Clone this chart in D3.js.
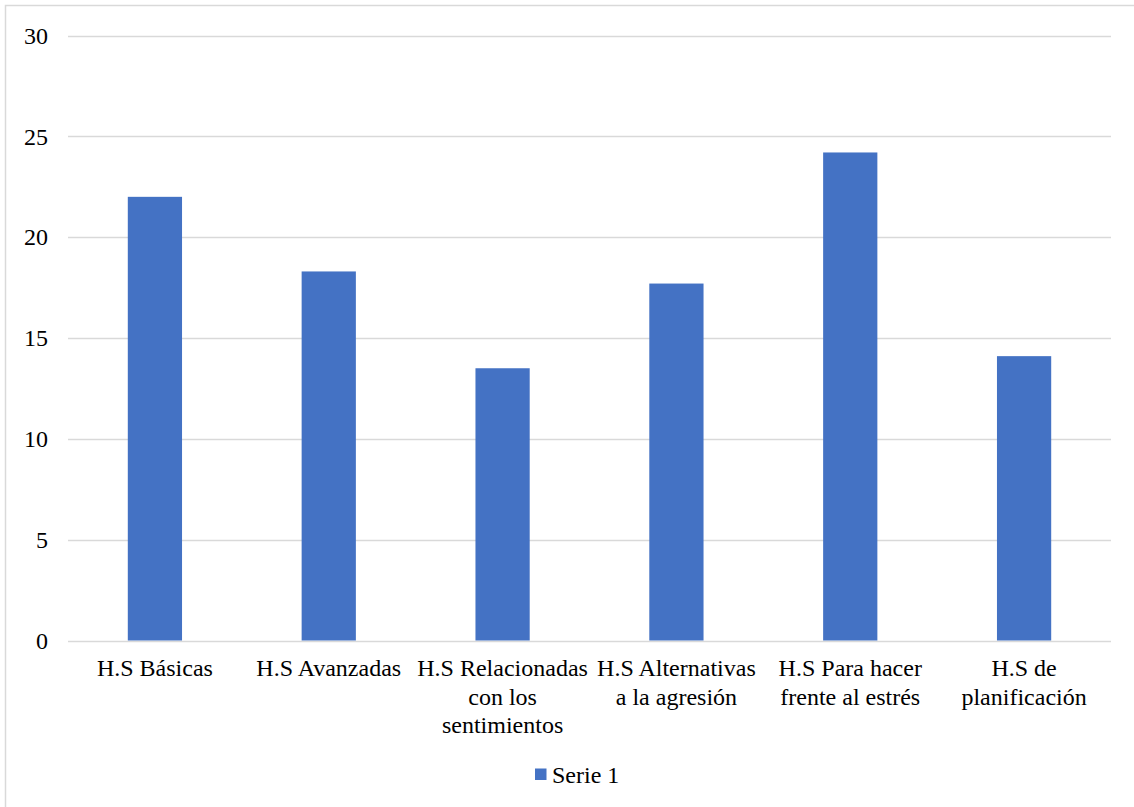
<!DOCTYPE html>
<html>
<head>
<meta charset="utf-8">
<script src="https://cdn.jsdelivr.net/npm/d3@7"></script>
<style>
  html, body { margin: 0; padding: 0; background: #fff; }
  svg { display: block; font-family: "Liberation Serif"; }
</style>
</head>
<body>
<svg id="chart" width="1134" height="807"></svg>
<script>
const categories = [
  "H.S Básicas",
  "H.S Avanzadas",
  "H.S Relacionadas\ncon los\nsentimientos",
  "H.S Alternativas\na la agresión",
  "H.S Para hacer\nfrente al estrés",
  "H.S de\nplanificación"
];
const values = [22, 18.3, 13.5, 17.7, 24.2, 14.1];
const yTicks = [0, 5, 10, 15, 20, 25, 30];
const seriesName = "Serie 1";

(function () {
const FONT = "Times New Roman";
const svg = d3.select("#chart");
const W = 1134, H = 807;
const mLeft = 68, mRight = 1111, mTop = 35.5, mBottom = 640.5;
const barColor = "#4472C4";
const gridColor = "#D9D9D9";

svg.append("rect")
  .attr("x", 5.5).attr("y", 5.5)
  .attr("width", W + 10).attr("height", H + 10)
  .attr("fill", "#fff").attr("stroke", gridColor).attr("stroke-width", 1.5);

const x = d3.scaleBand().domain(categories).range([mLeft, mRight]).paddingInner(0.688).paddingOuter(0.344);
const y = d3.scaleLinear().domain([0, 30]).range([mBottom, mTop]);

svg.append("g")
  .selectAll("line")
  .data(yTicks)
  .join("line")
  .attr("x1", mLeft).attr("x2", mRight)
  .attr("y1", d => Math.round(y(d)) + 0.5).attr("y2", d => Math.round(y(d)) + 0.5)
  .attr("stroke", gridColor).attr("stroke-width", 1.5);

const yAxis = svg.append("g")
  .attr("transform", `translate(${mLeft},0)`)
  .call(d3.axisLeft(y).tickValues(yTicks).tickSize(0).tickPadding(20).tickFormat(d3.format("d")));
yAxis.attr("font-family", FONT).attr("font-size", 24);
yAxis.select(".domain").remove();
yAxis.selectAll("text")
  .style("font-family", FONT)
  .style("font-size", "24px")
  .attr("fill", "#000")
  .attr("dy", "0.32em");

svg.append("g")
  .selectAll("rect")
  .data(values)
  .join("rect")
  .attr("x", (d, i) => x(categories[i]))
  .attr("width", x.bandwidth())
  .attr("y", d => y(d))
  .attr("height", d => y(0) - y(d))
  .attr("fill", barColor);

const xl = svg.append("g");
categories.forEach(c => {
  const lines = c.split("\n");
  const t = xl.append("text")
    .attr("text-anchor", "middle")
    .style("font-family", FONT)
    .style("font-size", "24px")
    .attr("fill", "#000")
    .attr("x", x(c) + x.bandwidth() / 2)
    .attr("y", 676);
  lines.forEach((ln, j) => {
    t.append("tspan")
      .attr("x", x(c) + x.bandwidth() / 2)
      .attr("dy", j === 0 ? 0 : 28.5)
      .text(ln);
  });
});

const lg = svg.append("g");
lg.append("rect").attr("x", 535).attr("y", 768.5).attr("width", 11.5).attr("height", 11.5).attr("fill", barColor);
lg.append("text").attr("x", 552).attr("y", 783)
  .style("font-family", FONT).style("font-size", "24px").attr("fill", "#000")
  .text(seriesName);
})();
</script>
</body>
</html>
